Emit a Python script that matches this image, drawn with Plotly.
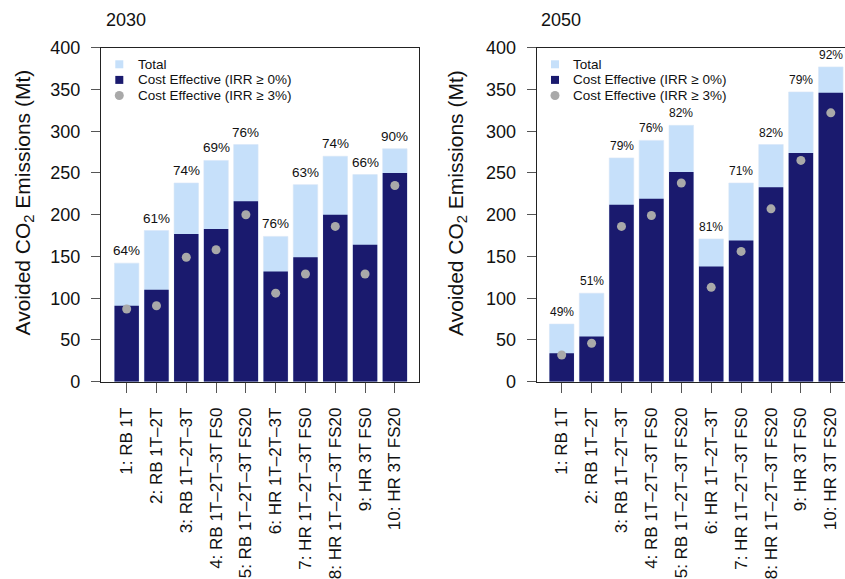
import plotly.graph_objects as go

# Scenario labels shared by both panels
scenarios = [
    "1: RB 1T", "2: RB 1T–2T", "3: RB 1T–2T–3T", "4: RB 1T–2T–3T FS0",
    "5: RB 1T–2T–3T FS20", "6: HR 1T–2T–3T", "7: HR 1T–2T–3T FS0",
    "8: HR 1T–2T–3T FS20", "9: HR 3T FS0", "10: HR 3T FS20",
]

# Avoided CO2 emissions (Mt), 2030
total_2030 = [142, 181, 238, 265, 284, 174, 236, 270, 248, 279]
ce0_2030 = [91, 110, 177, 183, 216, 132, 149, 200, 164, 250]
ce3_2030 = [87, 91, 149, 158, 200, 106, 129, 186, 129, 235]

# Avoided CO2 emissions (Mt), 2050
total_2050 = [69, 106, 268, 289, 307, 171, 238, 284, 347, 377]
ce0_2050 = [34, 54, 212, 219, 251, 138, 169, 233, 274, 346]
ce3_2050 = [32, 46, 186, 199, 238, 113, 156, 207, 265, 322]

legend_labels = ["Total", "Cost Effective (IRR ≥ 0%)", "Cost Effective (IRR ≥ 3%)"]

FONT = "Liberation Sans, Arial, Helvetica, sans-serif"
LIGHT = "#c6e0fa"
DARK = "#1a1a6e"
GREY = "#a9a9a9"
W, H = 845, 579

fig = go.Figure()
xs = list(range(len(scenarios)))


def add_panel(total, ce0, ce3, xa, ya):
    fig.add_trace(go.Bar(x=xs, y=total, name=legend_labels[0],
                         marker=dict(color=LIGHT, line=dict(width=0.6, color="#d6e6f6")),
                         width=0.82, xaxis=xa, yaxis=ya, showlegend=False))
    fig.add_trace(go.Bar(x=xs, y=ce0, name=legend_labels[1],
                         marker=dict(color=DARK, line=dict(width=0)),
                         width=0.82, xaxis=xa, yaxis=ya, showlegend=False))
    fig.add_trace(go.Scatter(x=xs, y=ce3, mode="markers", name=legend_labels[2],
                             marker=dict(color=GREY, size=9, line=dict(width=0)),
                             xaxis=xa, yaxis=ya, showlegend=False))


add_panel(total_2030, ce0_2030, ce3_2030, "x", "y")
add_panel(total_2050, ce0_2050, ce3_2050, "x2", "y2")

annotations = []
shapes = []

# share of cost-effective emissions above each bar
for xa, ya, total, ce0, fs in (("x", "y", total_2030, ce0_2030, 13.5),
                               ("x2", "y2", total_2050, ce0_2050, 12)):
    for i, (t, c) in enumerate(zip(total, ce0)):
        annotations.append(dict(x=i, y=t, xref=xa, yref=ya, text=f"{round(100 * c / t)}%",
                                showarrow=False, yanchor="bottom", yshift=3,
                                font=dict(family=FONT, size=fs, color="#111")))

# panel titles and y-axis titles
for x_px, label in ((104, "2030"), (539, "2050")):
    annotations.append(dict(x=x_px / W, y=(H - 20.5) / H, xref="paper", yref="paper",
                            text=label, showarrow=False, xanchor="left", yanchor="middle",
                            font=dict(family=FONT, size=18, color="#111")))
for x_px in (23.5, 457):
    annotations.append(dict(x=x_px / W, y=(H - 203) / H, xref="paper", yref="paper",
                            text="Avoided CO<sub>2</sub> Emissions (Mt)", textangle=-90,
                            showarrow=False, xanchor="center", yanchor="middle",
                            font=dict(family=FONT, size=21, color="#111")))

# compact key in the top-left corner of each panel
for frame_px in (101, 536.7):
    cx = frame_px + 18.3
    for k, (label, color, kind) in enumerate(zip(legend_labels, [LIGHT, DARK, GREY],
                                                 ["rect", "rect", "circle"])):
        cy = 64.3 + 15.6 * k
        r = 4 if kind == "rect" else 4.5
        shapes.append(dict(type=kind, xref="paper", yref="paper",
                           x0=(cx - r) / W, x1=(cx + r) / W,
                           y0=(H - cy - r) / H, y1=(H - cy + r) / H,
                           fillcolor=color, line=dict(width=0)))
        annotations.append(dict(x=(frame_px + 35.6) / W, y=(H - cy) / H, xref="paper",
                                yref="paper", text=label, showarrow=False,
                                xanchor="left", yanchor="middle", borderpad=0,
                                font=dict(family=FONT, size=13.5, color="#111")))

ydom = [(H - 381.7) / H, (H - 47.7) / H]
common_x = dict(tickmode="array", tickvals=xs, ticktext=scenarios, tickangle=-90,
                ticks="outside", ticklen=10, tickcolor="#555", tickwidth=1.2,
                showline=True, linecolor="#222", linewidth=1.2, mirror=True,
                showgrid=False, zeroline=False, ticklabelstandoff=8, automargin=False,
                tickfont=dict(family=FONT, size=17, color="#111"))
common_y = dict(range=[0, 400], tickvals=list(range(0, 401, 50)), ticks="outside",
                ticklen=9, tickcolor="#555", tickwidth=1.2, showline=True,
                linecolor="#222", linewidth=1.2, showgrid=False, zeroline=False,
                ticklabelstandoff=7, domain=ydom, automargin=False,
                tickfont=dict(family=FONT, size=18, color="#111"))

fig.update_layout(
    width=W, height=H, margin=dict(l=0, r=0, t=0, b=0, autoexpand=False),
    paper_bgcolor="white", plot_bgcolor="white", barmode="overlay", showlegend=False,
    xaxis=dict(domain=[101 / W, 419.3 / W], range=[-0.862, 9.82], anchor="y", **common_x),
    yaxis=dict(anchor="x", mirror=True, **common_y),
    xaxis2=dict(domain=[536.7 / W, 1.0], range=[-0.836, 9.475], anchor="y2", **common_x),
    yaxis2=dict(anchor="x2", mirror=False, **common_y),
    annotations=annotations, shapes=shapes,
)

fig.write_html("out.html")
